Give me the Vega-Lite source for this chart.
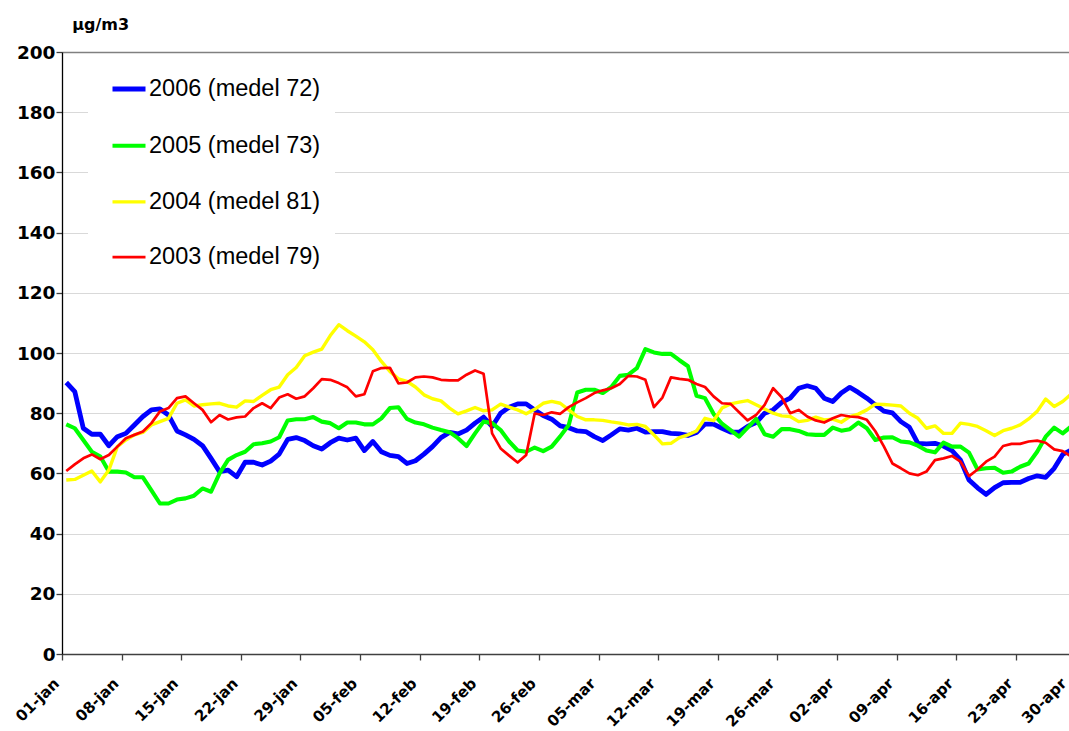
{
"$schema": "https://vega.github.io/schema/vega-lite/v6.json",
"width": 1007, "height": 602,
"autosize": {"type": "none"},
"padding": {"left": 62, "top": 52, "right": 0, "bottom": 77},
"background": "white",
"config": {"view": {"stroke": null}, "font": "Liberation Sans"},
"data": {"values": [
{"series":"2006 (medel 72)","day":1,"value":90.2},{"series":"2006 (medel 72)","day":2,"value":87.2},{"series":"2006 (medel 72)","day":3,"value":75},{"series":"2006 (medel 72)","day":4,"value":73},{"series":"2006 (medel 72)","day":5,"value":73},{"series":"2006 (medel 72)","day":6,"value":69.2},{"series":"2006 (medel 72)","day":7,"value":72.2},{"series":"2006 (medel 72)","day":8,"value":73.3},{"series":"2006 (medel 72)","day":9,"value":76.1},{"series":"2006 (medel 72)","day":10,"value":78.9},
{"series":"2006 (medel 72)","day":11,"value":81.1},{"series":"2006 (medel 72)","day":12,"value":81.4},{"series":"2006 (medel 72)","day":13,"value":79.4},{"series":"2006 (medel 72)","day":14,"value":74.1},{"series":"2006 (medel 72)","day":15,"value":72.8},{"series":"2006 (medel 72)","day":16,"value":71.3},{"series":"2006 (medel 72)","day":17,"value":69.2},{"series":"2006 (medel 72)","day":18,"value":65},{"series":"2006 (medel 72)","day":19,"value":60.6},{"series":"2006 (medel 72)","day":20,"value":61.1},
{"series":"2006 (medel 72)","day":21,"value":58.9},{"series":"2006 (medel 72)","day":22,"value":63.7},{"series":"2006 (medel 72)","day":23,"value":63.7},{"series":"2006 (medel 72)","day":24,"value":62.8},{"series":"2006 (medel 72)","day":25,"value":64.1},{"series":"2006 (medel 72)","day":26,"value":66.4},{"series":"2006 (medel 72)","day":27,"value":71.3},{"series":"2006 (medel 72)","day":28,"value":71.9},{"series":"2006 (medel 72)","day":29,"value":70.9},{"series":"2006 (medel 72)","day":30,"value":69.2},
{"series":"2006 (medel 72)","day":31,"value":68.1},{"series":"2006 (medel 72)","day":32,"value":70.2},{"series":"2006 (medel 72)","day":33,"value":71.7},{"series":"2006 (medel 72)","day":34,"value":71.1},{"series":"2006 (medel 72)","day":35,"value":71.7},{"series":"2006 (medel 72)","day":36,"value":67.6},{"series":"2006 (medel 72)","day":37,"value":70.6},{"series":"2006 (medel 72)","day":38,"value":67.2},{"series":"2006 (medel 72)","day":39,"value":66},{"series":"2006 (medel 72)","day":40,"value":65.6},
{"series":"2006 (medel 72)","day":41,"value":63.3},{"series":"2006 (medel 72)","day":42,"value":64.2},{"series":"2006 (medel 72)","day":43,"value":66.4},{"series":"2006 (medel 72)","day":44,"value":68.9},{"series":"2006 (medel 72)","day":45,"value":71.9},{"series":"2006 (medel 72)","day":46,"value":73.6},{"series":"2006 (medel 72)","day":47,"value":73.1},{"series":"2006 (medel 72)","day":48,"value":74.4},{"series":"2006 (medel 72)","day":49,"value":76.7},{"series":"2006 (medel 72)","day":50,"value":78.7},
{"series":"2006 (medel 72)","day":51,"value":75.6},{"series":"2006 (medel 72)","day":52,"value":80},{"series":"2006 (medel 72)","day":53,"value":82},{"series":"2006 (medel 72)","day":54,"value":83.1},{"series":"2006 (medel 72)","day":55,"value":83.1},{"series":"2006 (medel 72)","day":56,"value":81.1},{"series":"2006 (medel 72)","day":57,"value":79.2},{"series":"2006 (medel 72)","day":58,"value":78},{"series":"2006 (medel 72)","day":59,"value":75.8},{"series":"2006 (medel 72)","day":60,"value":75.2},
{"series":"2006 (medel 72)","day":61,"value":74.1},{"series":"2006 (medel 72)","day":62,"value":73.9},{"series":"2006 (medel 72)","day":63,"value":72.2},{"series":"2006 (medel 72)","day":64,"value":70.9},{"series":"2006 (medel 72)","day":65,"value":72.8},{"series":"2006 (medel 72)","day":66,"value":74.8},{"series":"2006 (medel 72)","day":67,"value":74.4},{"series":"2006 (medel 72)","day":68,"value":75},{"series":"2006 (medel 72)","day":69,"value":73.7},{"series":"2006 (medel 72)","day":70,"value":73.9},
{"series":"2006 (medel 72)","day":71,"value":73.9},{"series":"2006 (medel 72)","day":72,"value":73.3},{"series":"2006 (medel 72)","day":73,"value":73.1},{"series":"2006 (medel 72)","day":74,"value":72.6},{"series":"2006 (medel 72)","day":75,"value":73.6},{"series":"2006 (medel 72)","day":76,"value":76.4},{"series":"2006 (medel 72)","day":77,"value":76.4},{"series":"2006 (medel 72)","day":78,"value":75},{"series":"2006 (medel 72)","day":79,"value":73.7},{"series":"2006 (medel 72)","day":80,"value":73.7},
{"series":"2006 (medel 72)","day":81,"value":75.6},{"series":"2006 (medel 72)","day":82,"value":76.9},{"series":"2006 (medel 72)","day":83,"value":80},{"series":"2006 (medel 72)","day":84,"value":81.1},{"series":"2006 (medel 72)","day":85,"value":83.6},{"series":"2006 (medel 72)","day":86,"value":85},{"series":"2006 (medel 72)","day":87,"value":88.3},{"series":"2006 (medel 72)","day":88,"value":89.1},{"series":"2006 (medel 72)","day":89,"value":88.3},{"series":"2006 (medel 72)","day":90,"value":85},
{"series":"2006 (medel 72)","day":91,"value":83.9},{"series":"2006 (medel 72)","day":92,"value":86.7},{"series":"2006 (medel 72)","day":93,"value":88.6},{"series":"2006 (medel 72)","day":94,"value":86.9},{"series":"2006 (medel 72)","day":95,"value":85},{"series":"2006 (medel 72)","day":96,"value":82.8},{"series":"2006 (medel 72)","day":97,"value":80.7},{"series":"2006 (medel 72)","day":98,"value":80.1},{"series":"2006 (medel 72)","day":99,"value":77.2},{"series":"2006 (medel 72)","day":100,"value":75.3},
{"series":"2006 (medel 72)","day":101,"value":70},{"series":"2006 (medel 72)","day":102,"value":69.8},{"series":"2006 (medel 72)","day":103,"value":70},{"series":"2006 (medel 72)","day":104,"value":69.1},{"series":"2006 (medel 72)","day":105,"value":67.6},{"series":"2006 (medel 72)","day":106,"value":64.4},{"series":"2006 (medel 72)","day":107,"value":57.8},{"series":"2006 (medel 72)","day":108,"value":55.2},{"series":"2006 (medel 72)","day":109,"value":53},{"series":"2006 (medel 72)","day":110,"value":55.3},
{"series":"2006 (medel 72)","day":111,"value":56.9},{"series":"2006 (medel 72)","day":112,"value":57},{"series":"2006 (medel 72)","day":113,"value":57},{"series":"2006 (medel 72)","day":114,"value":58.3},{"series":"2006 (medel 72)","day":115,"value":59.2},{"series":"2006 (medel 72)","day":116,"value":58.7},{"series":"2006 (medel 72)","day":117,"value":61.7},{"series":"2006 (medel 72)","day":118,"value":66.3},{"series":"2006 (medel 72)","day":119,"value":67.8},
{"series":"2005 (medel 73)","day":1,"value":76.3},{"series":"2005 (medel 73)","day":2,"value":75},{"series":"2005 (medel 73)","day":3,"value":71.1},{"series":"2005 (medel 73)","day":4,"value":67.2},{"series":"2005 (medel 73)","day":5,"value":65.6},{"series":"2005 (medel 73)","day":6,"value":60.6},{"series":"2005 (medel 73)","day":7,"value":60.6},{"series":"2005 (medel 73)","day":8,"value":60.3},{"series":"2005 (medel 73)","day":9,"value":58.7},{"series":"2005 (medel 73)","day":10,"value":58.7},
{"series":"2005 (medel 73)","day":11,"value":54.4},{"series":"2005 (medel 73)","day":12,"value":50},{"series":"2005 (medel 73)","day":13,"value":50},{"series":"2005 (medel 73)","day":14,"value":51.3},{"series":"2005 (medel 73)","day":15,"value":51.7},{"series":"2005 (medel 73)","day":16,"value":52.6},{"series":"2005 (medel 73)","day":17,"value":55},{"series":"2005 (medel 73)","day":18,"value":53.9},{"series":"2005 (medel 73)","day":19,"value":60},{"series":"2005 (medel 73)","day":20,"value":64.5},
{"series":"2005 (medel 73)","day":21,"value":66.1},{"series":"2005 (medel 73)","day":22,"value":67.2},{"series":"2005 (medel 73)","day":23,"value":69.7},{"series":"2005 (medel 73)","day":24,"value":70},{"series":"2005 (medel 73)","day":25,"value":70.6},{"series":"2005 (medel 73)","day":26,"value":72},{"series":"2005 (medel 73)","day":27,"value":77.6},{"series":"2005 (medel 73)","day":28,"value":78},{"series":"2005 (medel 73)","day":29,"value":78},{"series":"2005 (medel 73)","day":30,"value":78.7},
{"series":"2005 (medel 73)","day":31,"value":77.2},{"series":"2005 (medel 73)","day":32,"value":76.7},{"series":"2005 (medel 73)","day":33,"value":75},{"series":"2005 (medel 73)","day":34,"value":76.9},{"series":"2005 (medel 73)","day":35,"value":76.9},{"series":"2005 (medel 73)","day":36,"value":76.3},{"series":"2005 (medel 73)","day":37,"value":76.3},{"series":"2005 (medel 73)","day":38,"value":78.3},{"series":"2005 (medel 73)","day":39,"value":81.7},{"series":"2005 (medel 73)","day":40,"value":82},
{"series":"2005 (medel 73)","day":41,"value":78.1},{"series":"2005 (medel 73)","day":42,"value":76.9},{"series":"2005 (medel 73)","day":43,"value":76.3},{"series":"2005 (medel 73)","day":44,"value":75.2},{"series":"2005 (medel 73)","day":45,"value":74.4},{"series":"2005 (medel 73)","day":46,"value":73.7},{"series":"2005 (medel 73)","day":47,"value":71.7},{"series":"2005 (medel 73)","day":48,"value":69.1},{"series":"2005 (medel 73)","day":49,"value":73.3},{"series":"2005 (medel 73)","day":50,"value":77.2},
{"series":"2005 (medel 73)","day":51,"value":76.7},{"series":"2005 (medel 73)","day":52,"value":74.4},{"series":"2005 (medel 73)","day":53,"value":70.6},{"series":"2005 (medel 73)","day":54,"value":67.6},{"series":"2005 (medel 73)","day":55,"value":67.2},{"series":"2005 (medel 73)","day":56,"value":68.6},{"series":"2005 (medel 73)","day":57,"value":67.4},{"series":"2005 (medel 73)","day":58,"value":68.9},{"series":"2005 (medel 73)","day":59,"value":72.3},{"series":"2005 (medel 73)","day":60,"value":76.1},
{"series":"2005 (medel 73)","day":61,"value":86.9},{"series":"2005 (medel 73)","day":62,"value":87.8},{"series":"2005 (medel 73)","day":63,"value":87.8},{"series":"2005 (medel 73)","day":64,"value":86.7},{"series":"2005 (medel 73)","day":65,"value":88.7},{"series":"2005 (medel 73)","day":66,"value":92.4},{"series":"2005 (medel 73)","day":67,"value":92.8},{"series":"2005 (medel 73)","day":68,"value":95},{"series":"2005 (medel 73)","day":69,"value":101.3},{"series":"2005 (medel 73)","day":70,"value":100.2},
{"series":"2005 (medel 73)","day":71,"value":99.7},{"series":"2005 (medel 73)","day":72,"value":99.7},{"series":"2005 (medel 73)","day":73,"value":97.6},{"series":"2005 (medel 73)","day":74,"value":95.6},{"series":"2005 (medel 73)","day":75,"value":85.8},{"series":"2005 (medel 73)","day":76,"value":85},{"series":"2005 (medel 73)","day":77,"value":79.8},{"series":"2005 (medel 73)","day":78,"value":76.5},{"series":"2005 (medel 73)","day":79,"value":74.4},{"series":"2005 (medel 73)","day":80,"value":72.2},
{"series":"2005 (medel 73)","day":81,"value":75.2},{"series":"2005 (medel 73)","day":82,"value":78.1},{"series":"2005 (medel 73)","day":83,"value":73},{"series":"2005 (medel 73)","day":84,"value":72.2},{"series":"2005 (medel 73)","day":85,"value":74.7},{"series":"2005 (medel 73)","day":86,"value":74.7},{"series":"2005 (medel 73)","day":87,"value":74.1},{"series":"2005 (medel 73)","day":88,"value":73},{"series":"2005 (medel 73)","day":89,"value":72.8},{"series":"2005 (medel 73)","day":90,"value":72.8},
{"series":"2005 (medel 73)","day":91,"value":75.2},{"series":"2005 (medel 73)","day":92,"value":74.2},{"series":"2005 (medel 73)","day":93,"value":74.7},{"series":"2005 (medel 73)","day":94,"value":76.9},{"series":"2005 (medel 73)","day":95,"value":75},{"series":"2005 (medel 73)","day":96,"value":71.1},{"series":"2005 (medel 73)","day":97,"value":71.9},{"series":"2005 (medel 73)","day":98,"value":72},{"series":"2005 (medel 73)","day":99,"value":70.6},{"series":"2005 (medel 73)","day":100,"value":70.3},
{"series":"2005 (medel 73)","day":101,"value":69.2},{"series":"2005 (medel 73)","day":102,"value":67.6},{"series":"2005 (medel 73)","day":103,"value":67},{"series":"2005 (medel 73)","day":104,"value":70.2},{"series":"2005 (medel 73)","day":105,"value":68.9},{"series":"2005 (medel 73)","day":106,"value":68.9},{"series":"2005 (medel 73)","day":107,"value":66.9},{"series":"2005 (medel 73)","day":108,"value":61.3},{"series":"2005 (medel 73)","day":109,"value":61.7},{"series":"2005 (medel 73)","day":110,"value":61.9},
{"series":"2005 (medel 73)","day":111,"value":60.2},{"series":"2005 (medel 73)","day":112,"value":60.6},{"series":"2005 (medel 73)","day":113,"value":62.2},{"series":"2005 (medel 73)","day":114,"value":63.3},{"series":"2005 (medel 73)","day":115,"value":67.2},{"series":"2005 (medel 73)","day":116,"value":72.2},{"series":"2005 (medel 73)","day":117,"value":75.2},{"series":"2005 (medel 73)","day":118,"value":73.3},{"series":"2005 (medel 73)","day":119,"value":75.6},
{"series":"2004 (medel 81)","day":1,"value":57.8},{"series":"2004 (medel 81)","day":2,"value":58},{"series":"2004 (medel 81)","day":3,"value":59.4},{"series":"2004 (medel 81)","day":4,"value":60.8},{"series":"2004 (medel 81)","day":5,"value":57.2},{"series":"2004 (medel 81)","day":6,"value":61.1},{"series":"2004 (medel 81)","day":7,"value":68.9},{"series":"2004 (medel 81)","day":8,"value":71.1},{"series":"2004 (medel 81)","day":9,"value":72.8},{"series":"2004 (medel 81)","day":10,"value":73.6},
{"series":"2004 (medel 81)","day":11,"value":76.1},{"series":"2004 (medel 81)","day":12,"value":77.2},{"series":"2004 (medel 81)","day":13,"value":78.3},{"series":"2004 (medel 81)","day":14,"value":83.3},{"series":"2004 (medel 81)","day":15,"value":84.4},{"series":"2004 (medel 81)","day":16,"value":82.4},{"series":"2004 (medel 81)","day":17,"value":82.8},{"series":"2004 (medel 81)","day":18,"value":83.1},{"series":"2004 (medel 81)","day":19,"value":83.3},{"series":"2004 (medel 81)","day":20,"value":82.4},
{"series":"2004 (medel 81)","day":21,"value":82},{"series":"2004 (medel 81)","day":22,"value":84.1},{"series":"2004 (medel 81)","day":23,"value":83.9},{"series":"2004 (medel 81)","day":24,"value":85.9},{"series":"2004 (medel 81)","day":25,"value":87.8},{"series":"2004 (medel 81)","day":26,"value":88.7},{"series":"2004 (medel 81)","day":27,"value":92.8},{"series":"2004 (medel 81)","day":28,"value":95.2},{"series":"2004 (medel 81)","day":29,"value":99.1},{"series":"2004 (medel 81)","day":30,"value":100.3},
{"series":"2004 (medel 81)","day":31,"value":101.3},{"series":"2004 (medel 81)","day":32,"value":105.8},{"series":"2004 (medel 81)","day":33,"value":109.4},{"series":"2004 (medel 81)","day":34,"value":107.4},{"series":"2004 (medel 81)","day":35,"value":105.6},{"series":"2004 (medel 81)","day":36,"value":103.7},{"series":"2004 (medel 81)","day":37,"value":101.1},{"series":"2004 (medel 81)","day":38,"value":97.2},{"series":"2004 (medel 81)","day":39,"value":93.9},{"series":"2004 (medel 81)","day":40,"value":91.4},
{"series":"2004 (medel 81)","day":41,"value":90.6},{"series":"2004 (medel 81)","day":42,"value":88.7},{"series":"2004 (medel 81)","day":43,"value":86.1},{"series":"2004 (medel 81)","day":44,"value":84.8},{"series":"2004 (medel 81)","day":45,"value":84.1},{"series":"2004 (medel 81)","day":46,"value":81.7},{"series":"2004 (medel 81)","day":47,"value":79.8},{"series":"2004 (medel 81)","day":48,"value":80.8},{"series":"2004 (medel 81)","day":49,"value":81.9},{"series":"2004 (medel 81)","day":50,"value":80.8},
{"series":"2004 (medel 81)","day":51,"value":81.1},{"series":"2004 (medel 81)","day":52,"value":83},{"series":"2004 (medel 81)","day":53,"value":82},{"series":"2004 (medel 81)","day":54,"value":81.1},{"series":"2004 (medel 81)","day":55,"value":79.8},{"series":"2004 (medel 81)","day":56,"value":81.3},{"series":"2004 (medel 81)","day":57,"value":83.3},{"series":"2004 (medel 81)","day":58,"value":83.9},{"series":"2004 (medel 81)","day":59,"value":83.3},{"series":"2004 (medel 81)","day":60,"value":81.1},
{"series":"2004 (medel 81)","day":61,"value":78.9},{"series":"2004 (medel 81)","day":62,"value":77.8},{"series":"2004 (medel 81)","day":63,"value":77.8},{"series":"2004 (medel 81)","day":64,"value":77.6},{"series":"2004 (medel 81)","day":65,"value":77.1},{"series":"2004 (medel 81)","day":66,"value":76.7},{"series":"2004 (medel 81)","day":67,"value":76.1},{"series":"2004 (medel 81)","day":68,"value":76.3},{"series":"2004 (medel 81)","day":69,"value":75.6},{"series":"2004 (medel 81)","day":70,"value":72.8},
{"series":"2004 (medel 81)","day":71,"value":69.8},{"series":"2004 (medel 81)","day":72,"value":70},{"series":"2004 (medel 81)","day":73,"value":71.9},{"series":"2004 (medel 81)","day":74,"value":72.8},{"series":"2004 (medel 81)","day":75,"value":74.1},{"series":"2004 (medel 81)","day":76,"value":78.3},{"series":"2004 (medel 81)","day":77,"value":77.5},{"series":"2004 (medel 81)","day":78,"value":81.7},{"series":"2004 (medel 81)","day":79,"value":83.1},{"series":"2004 (medel 81)","day":80,"value":83.7},
{"series":"2004 (medel 81)","day":81,"value":84.2},{"series":"2004 (medel 81)","day":82,"value":82.8},{"series":"2004 (medel 81)","day":83,"value":81.4},{"series":"2004 (medel 81)","day":84,"value":80},{"series":"2004 (medel 81)","day":85,"value":79.1},{"series":"2004 (medel 81)","day":86,"value":78.9},{"series":"2004 (medel 81)","day":87,"value":77.2},{"series":"2004 (medel 81)","day":88,"value":77.6},{"series":"2004 (medel 81)","day":89,"value":78.7},{"series":"2004 (medel 81)","day":90,"value":77.8},
{"series":"2004 (medel 81)","day":91,"value":78},{"series":"2004 (medel 81)","day":92,"value":77},{"series":"2004 (medel 81)","day":93,"value":78.9},{"series":"2004 (medel 81)","day":94,"value":79.7},{"series":"2004 (medel 81)","day":95,"value":81.1},{"series":"2004 (medel 81)","day":96,"value":83},{"series":"2004 (medel 81)","day":97,"value":82.9},{"series":"2004 (medel 81)","day":98,"value":82.7},{"series":"2004 (medel 81)","day":99,"value":82.4},{"series":"2004 (medel 81)","day":100,"value":80},
{"series":"2004 (medel 81)","day":101,"value":78.3},{"series":"2004 (medel 81)","day":102,"value":75},{"series":"2004 (medel 81)","day":103,"value":75.8},{"series":"2004 (medel 81)","day":104,"value":73.3},{"series":"2004 (medel 81)","day":105,"value":73.3},{"series":"2004 (medel 81)","day":106,"value":76.7},{"series":"2004 (medel 81)","day":107,"value":76.3},{"series":"2004 (medel 81)","day":108,"value":75.6},{"series":"2004 (medel 81)","day":109,"value":74.2},{"series":"2004 (medel 81)","day":110,"value":72.6},
{"series":"2004 (medel 81)","day":111,"value":74.2},{"series":"2004 (medel 81)","day":112,"value":75},{"series":"2004 (medel 81)","day":113,"value":76.1},{"series":"2004 (medel 81)","day":114,"value":78.1},{"series":"2004 (medel 81)","day":115,"value":80.6},{"series":"2004 (medel 81)","day":116,"value":84.7},{"series":"2004 (medel 81)","day":117,"value":82.2},{"series":"2004 (medel 81)","day":118,"value":83.9},{"series":"2004 (medel 81)","day":119,"value":86.4},
{"series":"2003 (medel 79)","day":1,"value":60.8},{"series":"2003 (medel 79)","day":2,"value":63},{"series":"2003 (medel 79)","day":3,"value":65},{"series":"2003 (medel 79)","day":4,"value":66.3},{"series":"2003 (medel 79)","day":5,"value":64.7},{"series":"2003 (medel 79)","day":6,"value":66.1},{"series":"2003 (medel 79)","day":7,"value":68.9},{"series":"2003 (medel 79)","day":8,"value":71.7},{"series":"2003 (medel 79)","day":9,"value":72.8},{"series":"2003 (medel 79)","day":10,"value":73.9},
{"series":"2003 (medel 79)","day":11,"value":76.7},{"series":"2003 (medel 79)","day":12,"value":80.6},{"series":"2003 (medel 79)","day":13,"value":81.7},{"series":"2003 (medel 79)","day":14,"value":85},{"series":"2003 (medel 79)","day":15,"value":85.6},{"series":"2003 (medel 79)","day":16,"value":83.3},{"series":"2003 (medel 79)","day":17,"value":81.1},{"series":"2003 (medel 79)","day":18,"value":77},{"series":"2003 (medel 79)","day":19,"value":79.4},{"series":"2003 (medel 79)","day":20,"value":77.9},
{"series":"2003 (medel 79)","day":21,"value":78.6},{"series":"2003 (medel 79)","day":22,"value":78.9},{"series":"2003 (medel 79)","day":23,"value":81.7},{"series":"2003 (medel 79)","day":24,"value":83.3},{"series":"2003 (medel 79)","day":25,"value":81.7},{"series":"2003 (medel 79)","day":26,"value":85.2},{"series":"2003 (medel 79)","day":27,"value":86.3},{"series":"2003 (medel 79)","day":28,"value":84.8},{"series":"2003 (medel 79)","day":29,"value":85.6},{"series":"2003 (medel 79)","day":30,"value":88.3},
{"series":"2003 (medel 79)","day":31,"value":91.3},{"series":"2003 (medel 79)","day":32,"value":91.1},{"series":"2003 (medel 79)","day":33,"value":90},{"series":"2003 (medel 79)","day":34,"value":88.6},{"series":"2003 (medel 79)","day":35,"value":85.6},{"series":"2003 (medel 79)","day":36,"value":86.3},{"series":"2003 (medel 79)","day":37,"value":93.9},{"series":"2003 (medel 79)","day":38,"value":95},{"series":"2003 (medel 79)","day":39,"value":95.1},{"series":"2003 (medel 79)","day":40,"value":89.9},
{"series":"2003 (medel 79)","day":41,"value":90.2},{"series":"2003 (medel 79)","day":42,"value":91.9},{"series":"2003 (medel 79)","day":43,"value":92.2},{"series":"2003 (medel 79)","day":44,"value":91.9},{"series":"2003 (medel 79)","day":45,"value":91.1},{"series":"2003 (medel 79)","day":46,"value":90.9},{"series":"2003 (medel 79)","day":47,"value":90.9},{"series":"2003 (medel 79)","day":48,"value":92.8},{"series":"2003 (medel 79)","day":49,"value":94.2},{"series":"2003 (medel 79)","day":50,"value":93.1},
{"series":"2003 (medel 79)","day":51,"value":73.3},{"series":"2003 (medel 79)","day":52,"value":68.3},{"series":"2003 (medel 79)","day":53,"value":65.9},{"series":"2003 (medel 79)","day":54,"value":63.6},{"series":"2003 (medel 79)","day":55,"value":66.1},{"series":"2003 (medel 79)","day":56,"value":79.9},{"series":"2003 (medel 79)","day":57,"value":79.4},{"series":"2003 (medel 79)","day":58,"value":80.3},{"series":"2003 (medel 79)","day":59,"value":79.8},{"series":"2003 (medel 79)","day":60,"value":82},
{"series":"2003 (medel 79)","day":61,"value":83.6},{"series":"2003 (medel 79)","day":62,"value":85},{"series":"2003 (medel 79)","day":63,"value":86.7},{"series":"2003 (medel 79)","day":64,"value":87.6},{"series":"2003 (medel 79)","day":65,"value":88.3},{"series":"2003 (medel 79)","day":66,"value":89.7},{"series":"2003 (medel 79)","day":67,"value":92.4},{"series":"2003 (medel 79)","day":68,"value":92.2},{"series":"2003 (medel 79)","day":69,"value":91.1},{"series":"2003 (medel 79)","day":70,"value":82},
{"series":"2003 (medel 79)","day":71,"value":85.2},{"series":"2003 (medel 79)","day":72,"value":91.9},{"series":"2003 (medel 79)","day":73,"value":91.4},{"series":"2003 (medel 79)","day":74,"value":91.1},{"series":"2003 (medel 79)","day":75,"value":89.7},{"series":"2003 (medel 79)","day":76,"value":88.7},{"series":"2003 (medel 79)","day":77,"value":85.6},{"series":"2003 (medel 79)","day":78,"value":83.3},{"series":"2003 (medel 79)","day":79,"value":83.1},{"series":"2003 (medel 79)","day":80,"value":80.3},
{"series":"2003 (medel 79)","day":81,"value":77.6},{"series":"2003 (medel 79)","day":82,"value":79.4},{"series":"2003 (medel 79)","day":83,"value":82.8},{"series":"2003 (medel 79)","day":84,"value":88.3},{"series":"2003 (medel 79)","day":85,"value":85.3},{"series":"2003 (medel 79)","day":86,"value":80},{"series":"2003 (medel 79)","day":87,"value":81.1},{"series":"2003 (medel 79)","day":88,"value":78.9},{"series":"2003 (medel 79)","day":89,"value":77.6},{"series":"2003 (medel 79)","day":90,"value":76.9},
{"series":"2003 (medel 79)","day":91,"value":78.3},{"series":"2003 (medel 79)","day":92,"value":79.4},{"series":"2003 (medel 79)","day":93,"value":78.9},{"series":"2003 (medel 79)","day":94,"value":78.7},{"series":"2003 (medel 79)","day":95,"value":77.8},{"series":"2003 (medel 79)","day":96,"value":74},{"series":"2003 (medel 79)","day":97,"value":69},{"series":"2003 (medel 79)","day":98,"value":63.3},{"series":"2003 (medel 79)","day":99,"value":61.7},{"series":"2003 (medel 79)","day":100,"value":60},
{"series":"2003 (medel 79)","day":101,"value":59.4},{"series":"2003 (medel 79)","day":102,"value":60.6},{"series":"2003 (medel 79)","day":103,"value":64.4},{"series":"2003 (medel 79)","day":104,"value":65},{"series":"2003 (medel 79)","day":105,"value":65.8},{"series":"2003 (medel 79)","day":106,"value":63.9},{"series":"2003 (medel 79)","day":107,"value":59.1},{"series":"2003 (medel 79)","day":108,"value":61.3},{"series":"2003 (medel 79)","day":109,"value":63.9},{"series":"2003 (medel 79)","day":110,"value":65.6},
{"series":"2003 (medel 79)","day":111,"value":69.1},{"series":"2003 (medel 79)","day":112,"value":69.8},{"series":"2003 (medel 79)","day":113,"value":69.8},{"series":"2003 (medel 79)","day":114,"value":70.6},{"series":"2003 (medel 79)","day":115,"value":70.9},{"series":"2003 (medel 79)","day":116,"value":70.2},{"series":"2003 (medel 79)","day":117,"value":68},{"series":"2003 (medel 79)","day":118,"value":67.4},{"series":"2003 (medel 79)","day":119,"value":65.6}
]},
"mark": {"type": "line", "clip": true, "strokeJoin": "round"},
"encoding": {
  "x": {"field": "day", "type": "quantitative",
    "scale": {"domain": [0.5, 120.5], "range": [0, 1022], "nice": false, "zero": false},
    "axis": {"values": [1,8,15,22,29,36,43,50,57,64,71,78,85,92,99,106,113,120],
      "labelExpr": "lower(utcFormat(utc(2006, 0, datum.value), '%d-%b'))",
      "title": null, "grid": false,
      "labelAngle": -45, "labelAlign": "right", "labelBaseline": "middle",
      "labelFont": "DejaVu Sans", "labelFontWeight": "bold", "labelFontSize": 15.2, "labelColor": "black",
      "labelPadding": 20.5,
      "labelOffset": {"condition": {"test": "datum.value === 120", "value": -12}, "value": -6},
      "labelFlush": false, "labelOverlap": false,
      "tickOffset": -4.25, "tickSize": 6, "tickColor": "#404040", "tickWidth": 1.3,
      "domainColor": "#404040", "domainWidth": 1.3}},
  "y": {"field": "value", "type": "quantitative",
    "scale": {"domain": [0, 200], "nice": false},
    "axis": {"values": [0,20,40,60,80,100,120,140,160,180,200],
      "title": "µg/m3", "titleAngle": 0, "titleAlign": "left", "titleBaseline": "alphabetic",
      "titleX": 9.7, "titleY": -22.5, "titleFont": "DejaVu Sans", "titleFontSize": 16, "titleFontWeight": "bold", "titleColor": "black",
      "labelFont": "DejaVu Sans", "labelFontWeight": "bold", "labelFontSize": 18.5, "labelColor": "black",
      "labelPadding": 1, "tickSize": 6, "tickColor": "#404040", "tickWidth": 1.3,
      "domainColor": "black", "domainWidth": 1.3,
      "grid": true,
      "gridColor": {"condition": {"test": "datum.value === 200", "value": "#808080"}, "value": "#d9d9d9"},
      "gridWidth": {"condition": {"test": "datum.value === 200", "value": 1.3}, "value": 1}}},
  "color": {"field": "series", "type": "nominal",
    "scale": {"domain": ["2006 (medel 72)", "2005 (medel 73)", "2004 (medel 81)", "2003 (medel 79)"], "range": ["#0000ff", "#00ff00", "#ffff00", "#ff0000"]},
    "legend": {"orient": "none", "legendX": 26, "legendY": 4, "title": null, "fillColor": "white", "padding": 14,
      "symbolType": "stroke", "symbolSize": 1089, "symbolOffset": 8, "labelOffset": 1,
      "labelFont": "Liberation Sans", "labelFontSize": 23.5, "labelColor": "black", "labelLimit": 400, "rowPadding": 25.7}},
  "strokeWidth": {"field": "series", "type": "nominal",
    "scale": {"domain": ["2006 (medel 72)", "2005 (medel 73)", "2004 (medel 81)", "2003 (medel 79)"], "range": [4.8, 2.7, 2.7, 2.7]}}
}
}
